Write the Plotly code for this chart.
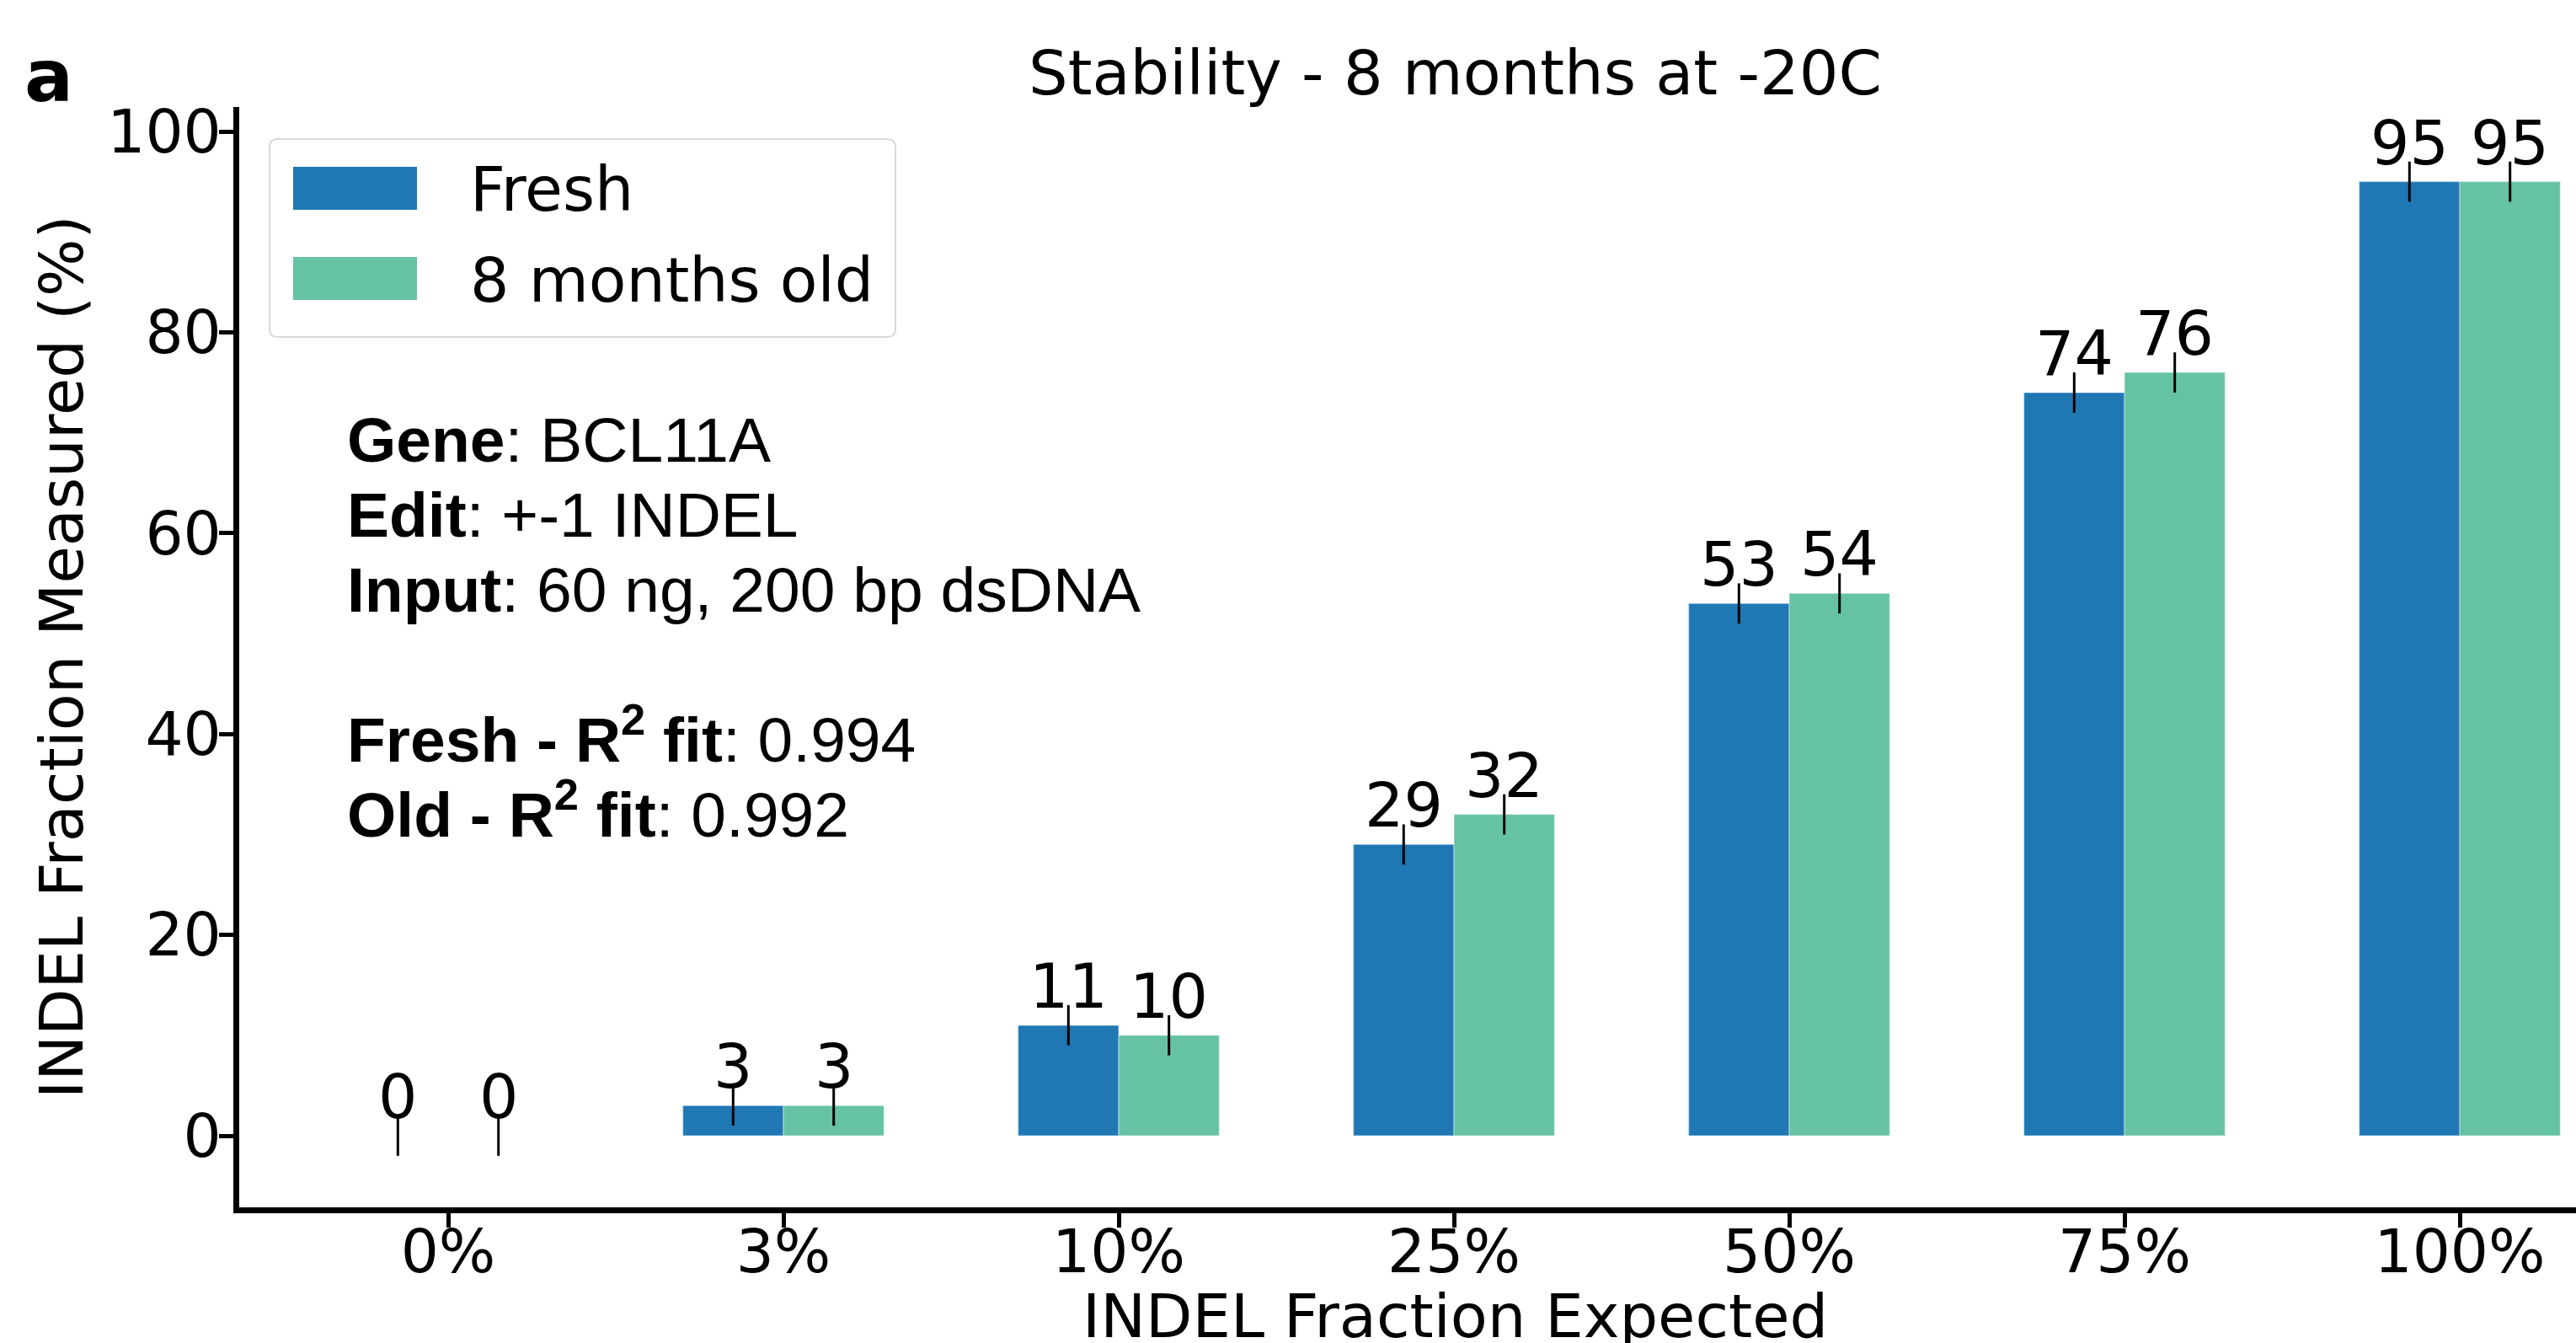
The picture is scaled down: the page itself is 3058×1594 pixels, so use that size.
import plotly.graph_objects as go

# Expected INDEL fractions and measured values (%)
categories = ["0%", "3%", "10%", "25%", "50%", "75%", "100%"]
fresh = [0, 3, 11, 29, 53, 74, 95]
old = [0, 3, 10, 32, 54, 76, 95]
fresh_err = [2, 2, 2, 2, 2, 2, 2]
old_err = [2, 2, 2, 2, 2, 2, 2]
series_names = ["Fresh", "8 months old"]
y_ticks = [0, 20, 40, 60, 80, 100]

BLUE = "#1f77b4"
GREEN = "#66c2a5"
W, H = 3058, 1594
L, R, T, B = 284, 0, 127, 161
PW, PH = W - L - R, H - T - B

# pixel geometry of the category axis: first category centre and spacing
CAT0_PX, CAT_STEP = 532, 398
# value axis: pixel rows of 0 and 100
Y0_PX, Y100_PX = 1348, 156
PX_PER_UNIT = (Y0_PX - Y100_PX) / 100


def px_x(px):
    return (px - L) / PW


def px_y(py):
    return (H - B - py) / PH


xpos = list(range(len(categories)))
fig = go.Figure()
for name, vals, err, col in [(series_names[0], fresh, fresh_err, BLUE),
                             (series_names[1], old, old_err, GREEN)]:
    fig.add_trace(go.Bar(
        x=xpos, y=vals, name=name, marker_color=col,
        marker_line=dict(width=1.5, color="rgba(255,255,255,0.35)"),
        error_y=dict(type="data", array=err, color="black", thickness=3, width=0),
        showlegend=False,
    ))

ann = []
# value labels above each error bar
for vals, err, off in [(fresh, fresh_err, -0.15), (old, old_err, 0.15)]:
    for i, (v, e) in enumerate(zip(vals, err)):
        ann.append(dict(x=i + off, y=v + e, xref="x", yref="y", text=str(v),
                        showarrow=False, yanchor="bottom", xanchor="center",
                        yshift=-22, font=dict(family="DejaVu Sans", size=73, color="black")))

# info text block
info = ["<b>Gene</b>: BCL11A",
        "<b>Edit</b>: +-1 INDEL",
        "<b>Input</b>: 60 ng, 200 bp dsDNA",
        "<b>Fresh - R<sup>2</sup> fit</b>: 0.994",
        "<b>Old - R<sup>2</sup> fit</b>: 0.992"]
baselines = [549, 638, 727, 905, 994]
for txt, bl in zip(info, baselines):
    ann.append(dict(x=px_x(410), y=px_y(bl + 17), xref="paper", yref="paper", text=txt,
                    showarrow=False, xanchor="left", yanchor="bottom",
                    font=dict(family="Liberation Sans", size=75, color="black")))

# titles
center_x = px_x(1727)
ann.append(dict(x=center_x, y=px_y(131), xref="paper", yref="paper",
                text="Stability - 8 months at -20C", showarrow=False,
                xanchor="center", yanchor="bottom",
                font=dict(family="DejaVu Sans", size=73.5, color="black")))
ann.append(dict(x=center_x, y=px_y(1606), xref="paper", yref="paper",
                text="INDEL Fraction Expected", showarrow=False,
                xanchor="center", yanchor="bottom",
                font=dict(family="DejaVu Sans", size=72, color="black")))
ann.append(dict(x=px_x(73), y=px_y(780), xref="paper", yref="paper",
                text="INDEL Fraction Measured (%)", showarrow=False, textangle=-90,
                xanchor="center", yanchor="middle",
                font=dict(family="DejaVu Sans", size=72, color="black")))
ann.append(dict(x=px_x(27), y=px_y(142), xref="paper", yref="paper",
                text="<b>a</b>", showarrow=False, xanchor="left", yanchor="bottom",
                font=dict(family="DejaVu Sans", size=86, color="black")))

# legend drawn as shapes + labels
shapes = []
x0, x1, y0, y1, r = 320, 1063, 165, 400, 10
rx, ry = r / PW, r / PH
X0, X1, Y0, Y1 = px_x(x0), px_x(x1), px_y(y0), px_y(y1)
path = (f"M {X0+rx},{Y0} L {X1-rx},{Y0} Q {X1},{Y0} {X1},{Y0-ry} "
        f"L {X1},{Y1+ry} Q {X1},{Y1} {X1-rx},{Y1} L {X0+rx},{Y1} "
        f"Q {X0},{Y1} {X0},{Y1+ry} L {X0},{Y0-ry} Q {X0},{Y0} {X0+rx},{Y0} Z")
shapes.append(dict(type="path", path=path, xref="paper", yref="paper",
                   line=dict(color="#d9d9d9", width=2), fillcolor="rgba(255,255,255,0.8)",
                   layer="above"))
for (sy0, sy1, bl), col, name in zip([(198, 249, 250), (305, 356, 358)], [BLUE, GREEN], series_names):
    shapes.append(dict(type="rect", xref="paper", yref="paper",
                       x0=px_x(348), x1=px_x(495), y0=px_y(sy0), y1=px_y(sy1),
                       fillcolor=col, line=dict(width=0), layer="above"))
    ann.append(dict(x=px_x(556), y=px_y(bl + 19), xref="paper", yref="paper", text=name,
                    showarrow=False, xanchor="left", yanchor="bottom",
                    font=dict(family="DejaVu Sans", size=73, color="black")))

fig.update_layout(
    width=W, height=H,
    margin=dict(l=L, r=R, t=T, b=B, pad=0),
    paper_bgcolor="white", plot_bgcolor="white",
    barmode="group", bargap=0.4, bargroupgap=0,
    annotations=ann, shapes=shapes,
    font=dict(family="DejaVu Sans", color="black"),
)
fig.update_xaxes(
    range=[(L - CAT0_PX) / CAT_STEP, (W - R - CAT0_PX) / CAT_STEP],
    tickvals=xpos, ticktext=categories,
    showline=True, linecolor="black", linewidth=7, mirror=False,
    ticks="outside", ticklen=17, tickwidth=5, tickcolor="black",
    ticklabelstandoff=-32,
    tickfont=dict(family="DejaVu Sans", size=71, color="black"),
    showgrid=False, zeroline=False,
)
fig.update_yaxes(
    range=[(Y0_PX - (H - B)) / PX_PER_UNIT, (Y0_PX - T) / PX_PER_UNIT],
    tickvals=y_ticks,
    showline=True, linecolor="black", linewidth=7,
    ticks="outside", ticklen=17, tickwidth=5, tickcolor="black",
    ticklabelstandoff=-17,
    tickfont=dict(family="DejaVu Sans", size=71, color="black"),
    showgrid=False, zeroline=False,
)

fig.write_html("out.html")
